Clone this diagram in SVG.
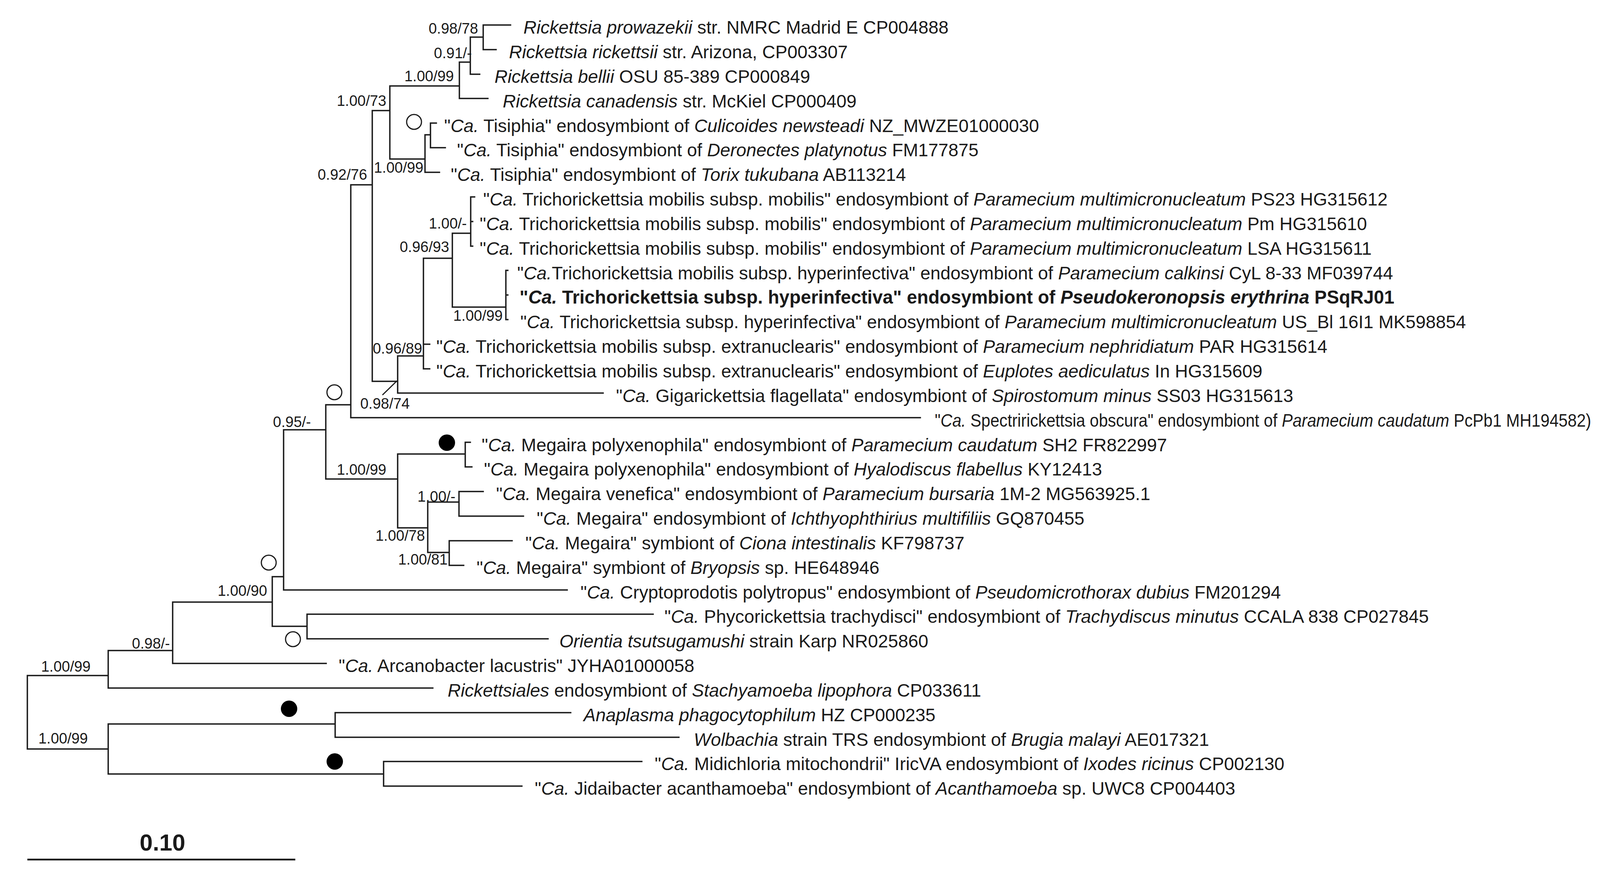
<svg xmlns="http://www.w3.org/2000/svg" width="4289" height="2260" viewBox="0 0 4289 2260">
<style>
.br{stroke:#1a1a1a;stroke-width:3.5;fill:none;stroke-linecap:square}
.lf{font-family:"Liberation Sans",Arial,Helvetica,sans-serif;font-size:46.3px;fill:#1a1a1a}
.sp{font-family:"Liberation Sans",Arial,Helvetica,sans-serif;font-size:38px;fill:#1a1a1a;text-anchor:end}
.i{font-style:italic}
.b{font-weight:bold;font-size:47.2px}
.oc{fill:#fff;stroke:#1a1a1a;stroke-width:3}
.fc{fill:#000}
</style>
<rect width="4289" height="2260" fill="#fff"/>
<g id="connectors">
<path class="br" d="M70 1729V1917M70 1729H277M70 1917H277
M277 1665V1761M277 1761H1108M277 1665H442
M442 1541V1698M442 1698H835M442 1541H697
M697 1476V1603M697 1603H786M697 1476H726
M786 1572V1635M786 1572H1672M786 1635H1403
M726 1100V1510M726 1510H1452M726 1100H834
M834 1036V1226M834 1036H898M834 1226H1018
M898 473V1069M898 1069H2356M898 473H953
M953 283V976M953 283H998M953 976H1018
M998 220V407M998 220H1176M998 407H1088
M1176 159V252M1176 252H1249M1176 159H1204
M1204 95V190M1204 190H1228M1204 95H1237
M1237 64V127M1237 64H1307M1237 127H1270
M1088 345V441M1088 441H1125M1088 345H1102
M1102 315V378M1102 315H1117M1102 378H1140
M1018 911V1006M1018 1006H1544M1018 911H1084
M1084 661V944M1084 661H1158M1084 881H1100M1084 944H1100
M1158 597V786M1158 597H1205M1158 786H1295
M1205 504V630M1205 504H1215M1205 567H1210M1205 630H1210
M1295 692V818M1295 692H1300M1295 755H1300M1295 818H1300
M1018 1162V1351M1018 1162H1191M1018 1351H1095
M1191 1132V1195M1191 1132H1204M1191 1195H1208
M1095 1285V1414M1095 1285H1175M1095 1414H1150
M1175 1258V1321M1175 1258H1237M1175 1321H1340
M1150 1384V1447M1150 1384H1311M1150 1447H1187
M277 1853V1981M277 1853H858M277 1981H982
M858 1824V1887M858 1824H1461M858 1887H1738
M982 1949V2012M982 1949H1643M982 2012H1336"/>
<path d="M979 1011L1016 975" stroke="#1a1a1a" stroke-width="3" fill="none"/>
</g>
<g id="node-markers">
<circle class="oc" cx="1060" cy="312" r="19"/>
<circle class="oc" cx="856" cy="1004" r="19"/>
<circle class="oc" cx="688" cy="1440" r="19"/>
<circle class="oc" cx="750" cy="1636" r="19"/>
<circle class="fc" cx="1144" cy="1133" r="21"/>
<circle class="fc" cx="740" cy="1814" r="21"/>
<circle class="fc" cx="857" cy="1949" r="21"/>
</g>
<g id="support-values">
<text class="sp" x="1224" y="86">0.98/78</text>
<text class="sp" x="1208" y="149">0.91/-</text>
<text class="sp" x="1162" y="208">1.00/99</text>
<text class="sp" x="989" y="271">1.00/73</text>
<text class="sp" x="1084" y="442">1.00/99</text>
<text class="sp" x="940" y="460">0.92/76</text>
<text class="sp" x="1150" y="645">0.96/93</text>
<text class="sp" x="1195" y="585">1.00/-</text>
<text class="sp" x="1287" y="821">1.00/99</text>
<text class="sp" x="1081" y="905">0.96/89</text>
<text class="sp" x="1049" y="1046">0.98/74</text>
<text class="sp" x="796" y="1093">0.95/-</text>
<text class="sp" x="989" y="1215">1.00/99</text>
<text class="sp" x="1166" y="1284">1.00/-</text>
<text class="sp" x="1088" y="1384">1.00/78</text>
<text class="sp" x="1146" y="1445">1.00/81</text>
<text class="sp" x="684" y="1525">1.00/90</text>
<text class="sp" x="435" y="1660">0.98/-</text>
<text class="sp" x="232" y="1719">1.00/99</text>
<text class="sp" x="225" y="1903">1.00/99</text>
</g>
<g id="leaf-01"><text class="lf" x="1340" y="86"><tspan class="i">Rickettsia prowazekii</tspan> str. NMRC Madrid E CP004888</text></g>
<g id="leaf-02"><text class="lf" x="1303" y="149"><tspan class="i">Rickettsia rickettsii</tspan> str. Arizona, CP003307</text></g>
<g id="leaf-03"><text class="lf" x="1266" y="212"><tspan class="i">Rickettsia bellii</tspan> OSU 85-389 CP000849</text></g>
<g id="leaf-04"><text class="lf" x="1287" y="275"><tspan class="i">Rickettsia canadensis</tspan> str. McKiel CP000409</text></g>
<g id="leaf-05"><text class="lf" x="1137" y="338">"<tspan class="i">Ca.</tspan> Tisiphia" endosymbiont of <tspan class="i">Culicoides newsteadi</tspan> NZ_MWZE01000030</text></g>
<g id="leaf-06"><text class="lf" x="1170" y="400">"<tspan class="i">Ca.</tspan> Tisiphia" endosymbiont of <tspan class="i">Deronectes platynotus</tspan> FM177875</text></g>
<g id="leaf-07"><text class="lf" x="1154" y="463">"<tspan class="i">Ca.</tspan> Tisiphia" endosymbiont of <tspan class="i">Torix tukubana</tspan> AB113214</text></g>
<g id="leaf-08"><text class="lf" x="1237" y="526">"<tspan class="i">Ca.</tspan> Trichorickettsia mobilis subsp. mobilis" endosymbiont of <tspan class="i">Paramecium multimicronucleatum</tspan> PS23 HG315612</text></g>
<g id="leaf-09"><text class="lf" x="1228" y="589">"<tspan class="i">Ca.</tspan> Trichorickettsia mobilis subsp. mobilis" endosymbiont of <tspan class="i">Paramecium multimicronucleatum</tspan> Pm HG315610</text></g>
<g id="leaf-10"><text class="lf" x="1228" y="652">"<tspan class="i">Ca.</tspan> Trichorickettsia mobilis subsp. mobilis" endosymbiont of <tspan class="i">Paramecium multimicronucleatum</tspan> LSA HG315611</text></g>
<g id="leaf-11"><text class="lf" x="1324" y="715">"<tspan class="i">Ca.</tspan>Trichorickettsia mobilis subsp. hyperinfectiva" endosymbiont of <tspan class="i">Paramecium calkinsi</tspan> CyL 8-33 MF039744</text></g>
<g id="leaf-12"><text class="lf b" x="1330" y="777">"<tspan class="i">Ca.</tspan> Trichorickettsia subsp. hyperinfectiva" endosymbiont of <tspan class="i">Pseudokeronopsis erythrina</tspan> PSqRJ01</text></g>
<g id="leaf-13"><text class="lf" x="1332" y="840">"<tspan class="i">Ca.</tspan> Trichorickettsia subsp. hyperinfectiva" endosymbiont of <tspan class="i">Paramecium multimicronucleatum</tspan> US_Bl 16I1 MK598854</text></g>
<g id="leaf-14"><text class="lf" x="1117" y="903">"<tspan class="i">Ca.</tspan> Trichorickettsia mobilis subsp. extranuclearis" endosymbiont of <tspan class="i">Paramecium nephridiatum</tspan> PAR HG315614</text></g>
<g id="leaf-15"><text class="lf" x="1117" y="966">"<tspan class="i">Ca.</tspan> Trichorickettsia mobilis subsp. extranuclearis" endosymbiont of <tspan class="i">Euplotes aediculatus</tspan> In HG315609</text></g>
<g id="leaf-16"><text class="lf" x="1577" y="1029">"<tspan class="i">Ca.</tspan> Gigarickettsia flagellata" endosymbiont of <tspan class="i">Spirostomum minus</tspan> SS03 HG315613</text></g>
<g id="leaf-17"><text class="lf" transform="translate(2393 1092) scale(0.9 1)" x="0" y="0">"<tspan class="i">Ca.</tspan> Spectririckettsia obscura" endosymbiont of <tspan class="i">Paramecium caudatum</tspan> PcPb1 MH194582)</text></g>
<g id="leaf-18"><text class="lf" x="1233" y="1155">"<tspan class="i">Ca.</tspan> Megaira polyxenophila" endosymbiont of <tspan class="i">Paramecium caudatum</tspan> SH2 FR822997</text></g>
<g id="leaf-19"><text class="lf" x="1239" y="1217">"<tspan class="i">Ca.</tspan> Megaira polyxenophila" endosymbiont of <tspan class="i">Hyalodiscus flabellus</tspan> KY12413</text></g>
<g id="leaf-20"><text class="lf" x="1270" y="1280">"<tspan class="i">Ca.</tspan> Megaira venefica" endosymbiont of <tspan class="i">Paramecium bursaria</tspan> 1M-2 MG563925.1</text></g>
<g id="leaf-21"><text class="lf" x="1374" y="1343">"<tspan class="i">Ca.</tspan> Megaira" endosymbiont of <tspan class="i">Ichthyophthirius multifiliis</tspan> GQ870455</text></g>
<g id="leaf-22"><text class="lf" x="1345" y="1406">"<tspan class="i">Ca.</tspan> Megaira" symbiont of <tspan class="i">Ciona intestinalis</tspan> KF798737</text></g>
<g id="leaf-23"><text class="lf" x="1220" y="1469">"<tspan class="i">Ca.</tspan> Megaira" symbiont of <tspan class="i">Bryopsis</tspan> sp. HE648946</text></g>
<g id="leaf-24"><text class="lf" x="1486" y="1532">"<tspan class="i">Ca.</tspan> Cryptoprodotis polytropus" endosymbiont of <tspan class="i">Pseudomicrothorax dubius</tspan> FM201294</text></g>
<g id="leaf-25"><text class="lf" x="1701" y="1594">"<tspan class="i">Ca.</tspan> Phycorickettsia trachydisci" endosymbiont of <tspan class="i">Trachydiscus minutus</tspan> CCALA 838 CP027845</text></g>
<g id="leaf-26"><text class="lf" x="1432" y="1657"><tspan class="i">Orientia tsutsugamushi</tspan> strain Karp NR025860</text></g>
<g id="leaf-27"><text class="lf" x="867" y="1720">"<tspan class="i">Ca.</tspan> Arcanobacter lacustris" JYHA01000058</text></g>
<g id="leaf-28"><text class="lf" x="1146" y="1783"><tspan class="i">Rickettsiales</tspan> endosymbiont of <tspan class="i">Stachyamoeba lipophora</tspan> CP033611</text></g>
<g id="leaf-29"><text class="lf" x="1494" y="1846"><tspan class="i">Anaplasma phagocytophilum</tspan> HZ CP000235</text></g>
<g id="leaf-30"><text class="lf" x="1776" y="1909"><tspan class="i">Wolbachia</tspan> strain TRS endosymbiont of <tspan class="i">Brugia malayi</tspan> AE017321</text></g>
<g id="leaf-31"><text class="lf" x="1676" y="1971">"<tspan class="i">Ca.</tspan> Midichloria mitochondrii" IricVA endosymbiont of <tspan class="i">Ixodes ricinus</tspan> CP002130</text></g>
<g id="leaf-32"><text class="lf" x="1369" y="2034">"<tspan class="i">Ca.</tspan> Jidaibacter acanthamoeba" endosymbiont of <tspan class="i">Acanthamoeba</tspan> sp. UWC8 CP004403</text></g>
<g id="scale-bar">
<path d="M70 2200H756" stroke="#1a1a1a" stroke-width="4.5" fill="none"/>
<text x="416" y="2177" text-anchor="middle" font-family="Liberation Sans,Arial,sans-serif" font-size="60" font-weight="bold" fill="#1a1a1a">0.10</text>
</g>
</svg>
